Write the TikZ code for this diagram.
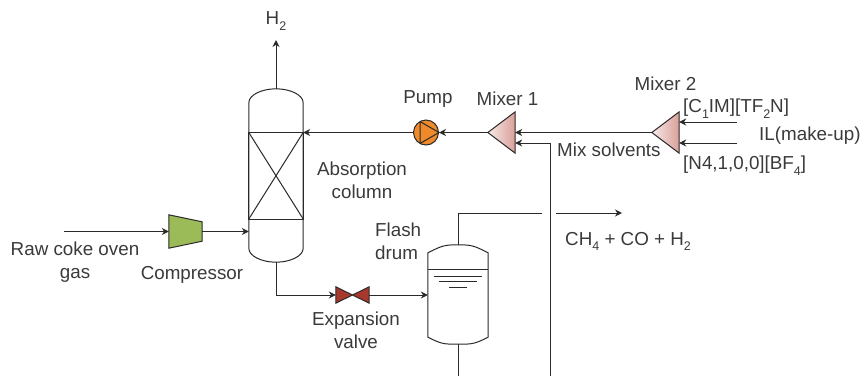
\documentclass[tikz,border=0pt]{standalone}
\usepackage{fontspec}
\setmainfont{Liberation Sans}
\usetikzlibrary{positioning,arrows.meta,shapes.geometric,calc}
\definecolor{pipe}{HTML}{2B2A29}
\definecolor{lbl}{HTML}{3A3A3A}
\definecolor{pumpfill}{HTML}{EF8A2C}
\definecolor{compfill}{HTML}{9BBB59}
\definecolor{valvefill}{HTML}{A9382C}
\definecolor{mixlight}{HTML}{F6EAE8}
\definecolor{mixdark}{HTML}{DA9F99}
\newcommand{\dn}[1]{\raisebox{-0.55ex}{\fontsize{12.5}{12.5}\selectfont #1}}

\begin{document}
\begin{tikzpicture}[x=1pt, y=-1pt,
  lab/.style={font=\fontsize{18.8}{23}\selectfont, text=lbl, align=center, inner sep=0pt},
  shell/.style={minimum size=0pt, inner sep=0pt, draw=none},
  unit/.style={draw=pipe, line width=1pt, line join=miter},
  arr/.style={-{Stealth[length=7pt,width=7pt]}, pipe, line width=1pt},
  line/.style={pipe, line width=1pt},
  mixer/.style={unit, left color=mixlight, right color=mixdark}]
\useasboundingbox (0,0) rectangle (862,376);
% equipment
\node[shell, minimum width=54pt, minimum height=173pt] (col) at (276,175.5) {};
\node[shell, minimum width=60pt, minimum height=99pt] (drum) at (458,294.5) {};
\node[circle, unit, fill=pumpfill, minimum size=25pt, inner sep=0pt] (pump) at (426,132.5) {};
\node[shell, minimum width=27pt, minimum height=41pt] (mixa) at (501.5,132.5) {};
\node[shell, minimum width=27pt, minimum height=41pt] (mixb) at (665.5,132.5) {};
\node[shell, minimum width=33pt, minimum height=33pt] (comp) at (185.5,231.5) {};
\node[shell, minimum width=33pt, minimum height=16pt] (valve) at (352.5,295) {};
\draw[unit] (col.north west) ++(0,14) .. controls ++(0,-8) and ++(-14,0) .. (col.north)
  .. controls ++(14,0) and ($(col.north east)+(0,6)$) .. ($(col.north east)+(0,14)$)
  -- ($(col.south east)+(0,-14)$) .. controls ++(0,8) and ($(col.south)+(14,0)$) .. (col.south)
  .. controls ++(-14,0) and ($(col.south west)+(0,-6)$) .. ($(col.south west)+(0,-14)$) -- cycle;
\draw[unit] (col.west |- pump) rectangle ($(col.east |- comp)+(0,-12.5)$);
\draw[unit] (col.west |- pump) -- ($(col.east |- comp)+(0,-12.5)$);
\draw[unit] (col.east |- pump) -- ($(col.west |- comp)+(0,-12.5)$);
\draw[unit] ($(drum.north west)+(0,8)$) .. controls ++(14,-7) and ($(drum.north)+(-14,0)$) .. (drum.north)
  .. controls ++(14,0) and ($(drum.north east)+(-14,1)$) .. ($(drum.north east)+(0,8)$)
  -- ($(drum.south east)+(0,-7)$) .. controls ++(-14,7) and ($(drum.south)+(14,0)$) .. (drum.south)
  .. controls ++(-14,0) and ($(drum.south west)+(14,0)$) .. ($(drum.south west)+(0,-7)$) -- cycle;
\draw[unit] ($(drum.north west)+(0,25)$) -- ($(drum.north east)+(0,25)$);
\draw[line, line width=0.7pt] (434,276) -- (482,276) (439,281) -- (477,281) (449,287) -- (467,287);
\draw[unit] (420,121.5) -- (420,143.5) (420,121.5) -- (pump.east) -- (420,143.5);
\draw[mixer] (mixa.west) -- (mixa.north east) -- (mixa.south east) -- cycle;
\draw[mixer] (mixb.west) -- (mixb.north east) -- (mixb.south east) -- cycle;
\draw[unit, fill=compfill] (comp.north west) -- ($(comp.north east)+(0,7)$) -- ($(comp.south east)+(0,-7)$) -- (comp.south west) -- cycle;
\draw[unit, fill=valvefill] (valve.north west) -- (valve.south east) -- (valve.north east) -- (valve.south west) -- cycle;
% free ends
\coordinate (hout) at (276,40);
\coordinate (rawin) at (64,231.5);
\coordinate (ilup) at (737,122);
\coordinate (ildn) at (737,143);
\coordinate (gapa) at (542,213);
\coordinate (gapb) at (556,213);
\coordinate (vap) at (622,213);
\coordinate (drumout) at (458,376);
\coordinate (recin) at (550,376);
% streams
\draw[arr] (col.north) -- (hout);
\draw[arr] (pump.west) -- (pump.west -| col.east);
\draw[arr] (mixa.west) -- (pump.east);
\draw[arr] (mixb.west) -- (mixb.west -| mixa.east);
\draw[arr] (recin) |- (mixa.east |- ildn);
\draw[arr] (ilup) -- (ilup -| mixb.east);
\draw[arr] (ildn) -- (ildn -| mixb.east);
\draw[arr] (rawin) -- (comp.west);
\draw[arr] (comp.east) -- (comp.east -| col.west);
\draw[arr] (col.south) |- (valve.west);
\draw[arr] (valve.east) -- (valve.east -| drum.west);
\draw[line] (drum.north) |- (gapa);
\draw[arr] (gapb) -- (vap);
\draw[line] (drum.south) -- (drumout);
% labels
\node[lab] (hlab) at (276,21) {H\dn{2}};
\node[lab] (pumplab) at (428,99) {Pump};
\node[lab] (abslab) at (362,180.5) {Absorption\\column};
\node[lab] (mixalab) at (507.5,99) {Mixer 1};
\node[lab] (mixblab) at (665.5,84) {Mixer 2};
\node[lab, anchor=west] (clab) at (683,108.5) {[C\dn{1}IM][TF\dn{2}N]};
\node[lab, anchor=west] (illab) at (759,135.5) {IL(make-up)};
\node[lab, anchor=west] (solvlab) at (557,150) {Mix solvents};
\node[lab, anchor=west] (nlab) at (683,165.5) {[N4,1,0,0][BF\dn{4}]};
\node[lab] (rawlab) at (75,262.5) {Raw coke oven\\gas};
\node[lab] (complab) at (192,275) {Compressor};
\node[lab, align=left, anchor=west] (flashlab) at (375,241.5) {Flash\\drum};
\node[lab] (valvelab) at (356,330.5) {Expansion\\valve};
\node[lab, anchor=west] (vaplab) at (565,241.5) {CH\dn{4} + CO + H\dn{2}};
\end{tikzpicture}
\end{document}
